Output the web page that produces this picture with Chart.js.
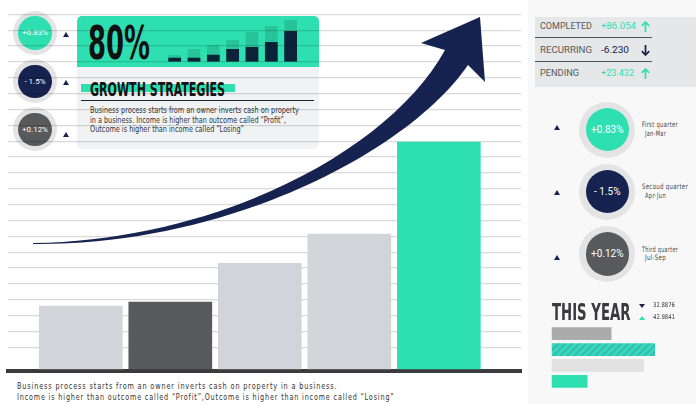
<!DOCTYPE html>
<html>
<head>
<meta charset="utf-8">
<script src="https://cdn.jsdelivr.net/npm/chart.js@4.4.0/dist/chart.umd.min.js"></script>
<style>
html, body { margin: 0; padding: 0; background: #fff; }
#page { position: relative; width: 696px; height: 404px; overflow: hidden;
  font-family: "Liberation Sans Narrow", "DejaVu Sans Condensed", Roboto, sans-serif; }
.abs { position: absolute; }
.txt { position: absolute; white-space: nowrap; line-height: 1; transform-origin: 0 50%; }
.ring { position: absolute; border-radius: 50%; background: #e4e4e5; }
.dot { position: absolute; border-radius: 50%; color: #fff; display: flex; align-items: center; justify-content: center;
  font-family: Roboto, sans-serif; }
.tri-up { position: absolute; width: 0; height: 0; border-left: 3px solid transparent; border-right: 3px solid transparent; }
.tri-dn { position: absolute; width: 0; height: 0; border-left: 3px solid transparent; border-right: 3px solid transparent; }
#layer-back { position: absolute; left: 0; top: 0; width: 696px; height: 404px; z-index: 1; }
#mainWrap { position: absolute; left: 0; top: 0; width: 528px; height: 404px; z-index: 2; }
#arrow { position: absolute; left: 0; top: 0; z-index: 3; }
</style>
</head>
<body>
<div id="page">
  <div id="layer-back"></div>
  <div id="mainWrap"><canvas id="mainChart" width="528" height="404"></canvas></div>
  <svg id="arrow" width="696" height="404">
    <path d="M 33 243 C 220 240, 390 150, 445 50 L 421 43 L 480 17 L 485 82 L 468 65 C 410 150, 230 246, 33 244 Z" fill="#16224f"/>
  </svg>
</div>

<script>
// main bars (one grid step = 1 unit)
const periods = ['1', '2', '3', '4', '5'];
const barValues = [3.6, 3.85, 6.3, 8.15, 13.95];

// mini bars in the title box
const miniLabels = ['1', '2', '3', '4', '5', '6', '7'];
const miniTotal = [6.7, 12.7, 16.7, 21.7, 29.7, 35.7, 41.7];
const miniDark = [4, 4, 7, 12.7, 14.7, 19.7, 30.7];

// this year bars
const yearLabels = ['a', 'b', 'c', 'd'];
const yearValues = [60, 103.5, 92.5, 36];
const yearStats = ['32.8876', '42.9841'];

// left and right badges
const badgeValues = ['+0.83%', '- 1.5%', '+0.12%'];
const quarterNames = ['First quarter', 'Secoud quarter', 'Third quarter'];
const quarterMonths = ['Jan-Mar', 'Apr-Jun', 'Jul-Sep'];

// stats table
const statLabels = ['COMPLETED', 'RECURRING', 'PENDING'];
const statValues = ['+86.054', '-6.230', '+23.432'];

const GREEN = '#2ee0b1';
const NAVY = '#16224f';
const DARK = '#58595b';
const badgeColors = [GREEN, NAVY, DARK];

const back = document.getElementById('layer-back');
function add(html) { back.insertAdjacentHTML('beforeend', html); }

// text with a fixed target width, centred on y
function text(str, x, cy, size, w, extra) {
  const el = document.createElement('div');
  el.className = 'txt';
  el.textContent = str;
  el.style.left = x + 'px';
  el.style.top = (cy - size / 2) + 'px';
  el.style.fontSize = size + 'px';
  el.style.height = size + 'px';
  if (extra) el.setAttribute('style', el.getAttribute('style') + ';' + extra);
  back.appendChild(el);
  if (w) {
    const r = el.getBoundingClientRect().width;
    el.style.transform = 'scaleX(' + (w / r) + ')';
  }
  return el;
}

// right panel backgrounds
add('<div class="abs" style="left:528px;top:0;width:168px;height:404px;background:#f8f8f8"></div>');
add('<div class="abs" style="left:535px;top:17px;width:161px;height:70px;background:#e6e7e8"></div>');
add('<div class="abs" style="left:535px;top:37px;width:117px;height:1px;background:#555"></div>');
add('<div class="abs" style="left:535px;top:61px;width:117px;height:1px;background:#555"></div>');

// title box
add('<div class="abs" style="left:77px;top:16px;width:242px;height:51px;background:' + GREEN + ';border-radius:5px 5px 0 0"></div>');
add('<div class="abs" style="left:77px;top:67px;width:242px;height:82px;background:#f1f2f4;border-radius:0 0 5px 5px"></div>');
add('<div class="abs" style="left:81px;top:84px;width:154px;height:8px;background:' + GREEN + '"></div>');
add('<div class="abs" style="left:81px;top:100px;width:233px;height:1px;background:#222"></div>');
add('<div class="abs" style="left:160px;top:14px;width:150px;height:52px"><canvas id="miniChart" width="150" height="52"></canvas></div>');
add('<div class="abs" style="left:540px;top:320px;width:156px;height:75px"><canvas id="yearChart" width="156" height="75"></canvas></div>');

text('80%', 88, 42.5, 46, 62, 'color:#111;font-weight:bold');
text('GROWTH STRATEGIES', 90, 88.5, 20, 135, 'font-weight:bold;color:#141414');
text('Business process starts from an owner inverts cash on property', 90, 111, 8, 209, 'color:#333');
text('in a business. Income is higher than outcome called \u201cProfit\u201d,', 90, 120.7, 8, 196, 'color:#333');
text('Outcome is higher than income called \u201cLosing\u201d', 90, 130, 8, 154, 'color:#333');

// left badges
const leftY = [33, 81.3, 129.3];
leftY.forEach(function (cy, i) {
  add('<div class="ring" style="left:13px;top:' + (cy - 22) + 'px;width:44px;height:44px"></div>');
  add('<div class="dot" style="left:18.3px;top:' + (cy - 16.7) + 'px;width:33.4px;height:33.4px;background:' +
      badgeColors[i] + ';font-size:8px">' + badgeValues[i] + '</div>');
  add('<div class="tri-up" style="left:63px;top:' + (cy - 1.5 + (i === 2 ? 4 : 0)) + 'px;border-bottom:5px solid ' + NAVY + '"></div>');
});

// right badges
const rightY = [129.7, 191.7, 254];
rightY.forEach(function (cy, i) {
  add('<div class="ring" style="left:579.3px;top:' + (cy - 28) + 'px;width:56px;height:56px"></div>');
  add('<div class="dot" style="left:585.5px;top:' + (cy - 21.8) + 'px;width:43.6px;height:43.6px;background:' +
      badgeColors[i] + ';font-size:10px">' + badgeValues[i] + '</div>');
  add('<div class="tri-up" style="left:553.7px;top:' + (cy - 4.5 + i * 2.5) + 'px;border-bottom:5px solid ' + NAVY + '"></div>');
  text(quarterNames[i], 642.3, cy - 4.5, 7.5, i === 1 ? 46 : 36, 'color:#444;letter-spacing:0.4px');
  text(quarterMonths[i], 645, cy + 4, 7.5, 21, 'color:#444;letter-spacing:0.4px');
});

// stats table
const rowY = [26.7, 50, 73];
const valueW = [35, 28, 33];
rowY.forEach(function (cy, i) {
  text(statLabels[i], 540, cy, 9, [52, 52, 39][i], 'color:#58595b;font-family:Roboto,sans-serif');
  const up = statValues[i].charAt(0) === '+';
  text(statValues[i], up ? 600.5 : 601, cy, 9, valueW[i], 'color:' + (up ? GREEN : NAVY) + ';font-family:Roboto,sans-serif');
  const col = up ? GREEN : NAVY;
  const d = up ? 'M4.5 1 L4.5 11 M0.8 4.8 L4.5 1 L8.2 4.8' : 'M4.5 0 L4.5 10 M0.8 6.2 L4.5 10 L8.2 6.2';
  add('<svg class="abs" style="left:640.5px;top:' + (cy - 5.5) + 'px" width="9" height="11"><path d="' + d +
      '" stroke="' + col + '" stroke-width="1.7" fill="none"/></svg>');
});

// this year
text('THIS YEAR', 551.7, 312, 23, 78.5, 'font-weight:bold;color:#3a3a3c');
add('<div class="tri-dn" style="left:639px;top:304px;border-top:4px solid ' + NAVY + '"></div>');
add('<div class="tri-up" style="left:639px;top:316px;border-bottom:4px solid ' + GREEN + '"></div>');
text(yearStats[0], 653.3, 305.7, 6.5, 22, 'color:#333');
text(yearStats[1], 653.3, 317.5, 6.5, 22, 'color:#333');

// footer
text('Business process starts from an owner inverts cash on property in a business.', 17.3, 386.7, 8.5, 320.5, 'color:#333;letter-spacing:1px');
text('Income is higher than outcome called \u201cProfit\u201d,Outcome is higher than income called \u201cLosing\u201d', 17.3, 397.3, 8.5, 377.5, 'color:#333;letter-spacing:1px');

// hatched fill for the second year bar
function hatch() {
  const c = document.createElement('canvas');
  c.width = 7; c.height = 7;
  const g = c.getContext('2d');
  g.fillStyle = GREEN;
  g.fillRect(0, 0, 7, 7);
  g.strokeStyle = '#3fb4bd';
  g.lineWidth = 2.2;
  g.beginPath();
  g.moveTo(-1, 8); g.lineTo(8, -1);
  g.moveTo(-4.5, 4.5); g.lineTo(4.5, -4.5);
  g.moveTo(2.5, 11.5); g.lineTo(11.5, 2.5);
  g.stroke();
  return g.createPattern(c, 'repeat');
}

// main chart
new Chart(document.getElementById('mainChart'), {
  type: 'bar',
  data: {
    datasets: [{
      data: barValues.map(function (v, i) { return { x: i, y: v }; }),
      backgroundColor: ['#d1d4d8', '#58595b', '#d1d4d8', '#d1d4d8', GREEN],
      barThickness: 83,
      base: -0.36
    }]
  },
  options: {
    responsive: false,
    animation: false,
    layout: { padding: { left: 8, right: 7, top: 14.3, bottom: 25 } },
    plugins: { legend: { display: false }, tooltip: { enabled: false } },
    scales: {
      x: {
        type: 'linear', min: -0.813, max: 4.918, offset: false,
        grid: { display: false },
        ticks: { display: false },
        border: { display: true, color: '#3b3b3d', width: 4 }
      },
      y: {
        min: -0.49, max: 22,
        ticks: { display: false, stepSize: 1 },
        grid: { color: 'rgba(0,0,0,0.15)', lineWidth: 1.2, drawTicks: false },
        border: { display: false }
      }
    }
  }
});

// mini chart
new Chart(document.getElementById('miniChart'), {
  type: 'bar',
  data: {
    labels: miniLabels,
    datasets: [
      { data: miniDark, backgroundColor: '#0b2338' },
      { data: miniTotal, backgroundColor: '#27c49a' }
    ]
  },
  options: {
    responsive: false,
    animation: false,
    layout: { padding: { left: 5, right: 9.7, top: 5.7, bottom: 4.3 } },
    plugins: { legend: { display: false }, tooltip: { enabled: false } },
    datasets: { bar: { grouped: false, categoryPercentage: 1, barPercentage: 0.66 } },
    scales: {
      x: { display: false },
      y: { display: false, min: 0, max: 42 }
    }
  }
});

// this year chart
new Chart(document.getElementById('yearChart'), {
  type: 'bar',
  data: {
    labels: yearLabels,
    datasets: [{
      data: yearValues,
      backgroundColor: ['#ababab', hatch(), '#e1e1e1', GREEN]
    }]
  },
  options: {
    indexAxis: 'y',
    responsive: false,
    animation: false,
    layout: { padding: { left: 11.5, right: 4.5, top: 5.7, bottom: 5.7 } },
    plugins: { legend: { display: false }, tooltip: { enabled: false } },
    datasets: { bar: { categoryPercentage: 1, barPercentage: 0.8 } },
    scales: {
      x: { display: false, min: 0, max: 140 },
      y: { display: false }
    }
  }
});
</script>
</body>
</html>
